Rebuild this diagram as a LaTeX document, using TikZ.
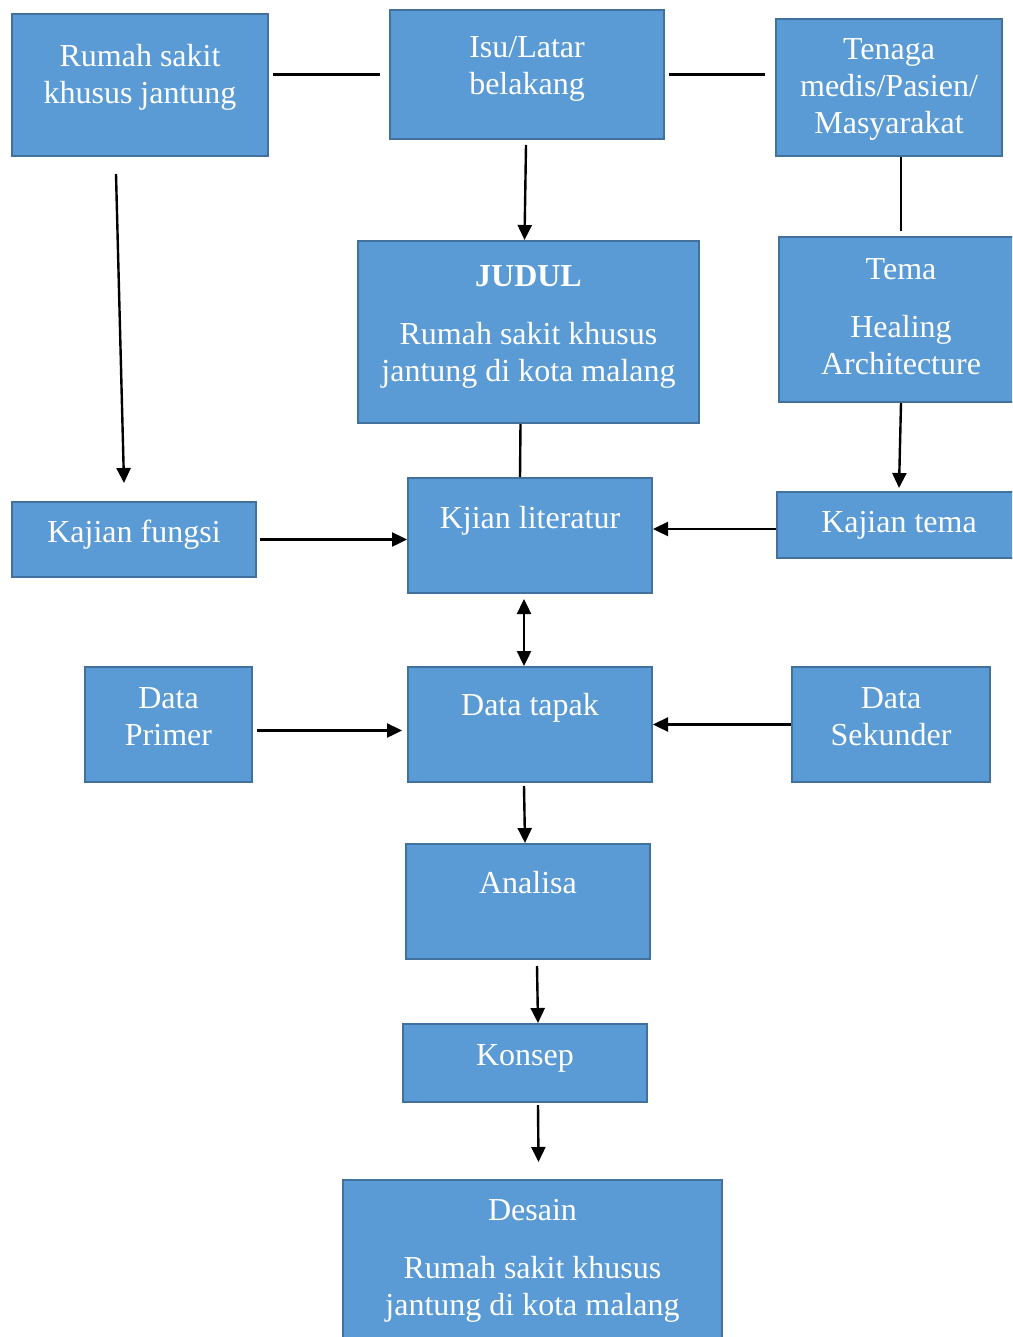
\documentclass[tikz,border=0pt]{standalone}
\usepackage{fontspec}
\setmainfont{Liberation Serif}
\usepackage{tikz}
\usetikzlibrary{calc,positioning,arrows.meta}
\definecolor{kotak}{HTML}{5B9BD5}
\definecolor{tepi}{HTML}{41719C}

\begin{document}
\begin{tikzpicture}[x=1pt,y=-1pt, blok/.style={draw=tepi,fill=kotak,line width=2pt,text=white,inner sep=0pt,anchor=north west,align=center,font=\fontsize{32}{37}\selectfont},garis/.style={line width=2.4pt},panah/.style={line width=2.4pt,-{Triangle[length=15pt,width=14pt]}}]
              \clip (0,0) rectangle (1012,1337);
              \useasboundingbox (0,0) rectangle (1012,1337);
              \node[blok,minimum width=256pt,text height=90pt,text depth=52pt] (rs) at (11,13) {Rumah sakit\\khusus jantung};
              \node[blok,minimum width=274pt,text height=85pt,text depth=44pt] (isu) at (389,9) {Isu/Latar\\belakang};
              \node[blok,minimum width=226pt,text height=115pt,text depth=22pt] (tng) at (775,18) {Tenaga\\medis/Pasien/\\Masyarakat};

              \node[blok,minimum width=341pt,text height=140pt,text depth=42pt] (jdl) at (357,240) {\textbf{JUDUL}\\[21pt]Rumah sakit khusus\\jantung di kota malang};
              \node[blok,minimum width=244pt,text height=137pt,text depth=28pt] (tema) at (778,236) {Tema\\[21pt]Healing\\Architecture};

              \node[blok,minimum width=244pt,text height=40pt,text depth=35pt] (kfs) at (11,501) {Kajian fungsi};
              \node[blok,minimum width=244pt,text height=50pt,text depth=65pt] (klit) at (407,477) {Kjian literatur};
              \node[blok,minimum width=244pt,text height=40pt,text depth=26pt] (ktm) at (776,491) {Kajian tema};

              \node[blok,minimum width=167pt,text height=78pt,text depth=37pt] (dpr) at (84,666) {Data\\Primer};
              \node[blok,minimum width=244pt,text height=48pt,text depth=67pt] (dtp) at (407,666) {Data tapak};
              \node[blok,minimum width=198pt,text height=78pt,text depth=37pt] (dsk) at (791,666) {Data\\Sekunder};

              \node[blok,minimum width=244pt,text height=49pt,text depth=66pt] (ana) at (405,843) {Analisa};
              \node[blok,minimum width=244pt,text height=41pt,text depth=37pt] (ksp) at (402,1023) {Konsep};
              \node[blok,minimum width=379pt,text height=135pt,text depth=31pt] (dsn) at (342,1179) {Desain\\[21pt]Rumah sakit khusus\\jantung di kota malang};

              \draw[garis] ([xshift=4pt]rs.east |- isu.west) -- ([xshift=-9pt]isu.west);
              \draw[garis] ([xshift=4pt]isu.east) -- ([xshift=-10pt]tng.west |- isu.east);
              \draw[garis] (tema.north |- tng.south) -- ([yshift=5pt]tema.north);
              \draw[garis] ([xshift=-8pt]jdl.south) -- ([xshift=-10pt]klit.north);

              \draw[panah] ([xshift=-24pt,yshift=-17pt]rs.south) -- ([xshift=-10pt,yshift=18pt]kfs.north);
              \draw[panah] ([xshift=-1pt,yshift=-5pt]isu.south) -- ([xshift=-4pt]jdl.north);
              \draw[panah] (tema.south) -- ([yshift=3pt]ktm.north);
              \draw[panah] ([xshift=3pt]kfs.east) -- (klit.west |- kfs.east);
              \draw[panah] ([yshift=-4pt]ktm.west) -- ([yshift=-4pt]klit.east |- ktm.west);
              \draw[panah,{Triangle[length=15pt,width=14pt]}-{Triangle[length=15pt,width=14pt]}] ([xshift=-6pt,yshift=-5pt]klit.south) -- ([xshift=-6pt]dtp.north);
              \draw[panah] ([xshift=4pt,yshift=-6pt]dpr.east) -- ([xshift=-5pt,yshift=-6pt]dtp.west);
              \draw[panah] (dsk.west) -- (dtp.east);
              \draw[panah] ([xshift=-6pt,yshift=-3pt]dtp.south) -- ([xshift=-3pt]ana.north);
              \draw[panah] ([xshift=9pt,yshift=-6pt]ana.south) -- ([xshift=13pt]ksp.north);
              \draw[panah] ([xshift=13pt,yshift=-2pt]ksp.south) -- ([xshift=6pt,yshift=17pt]dsn.north);
            \end{tikzpicture}
\end{document}
